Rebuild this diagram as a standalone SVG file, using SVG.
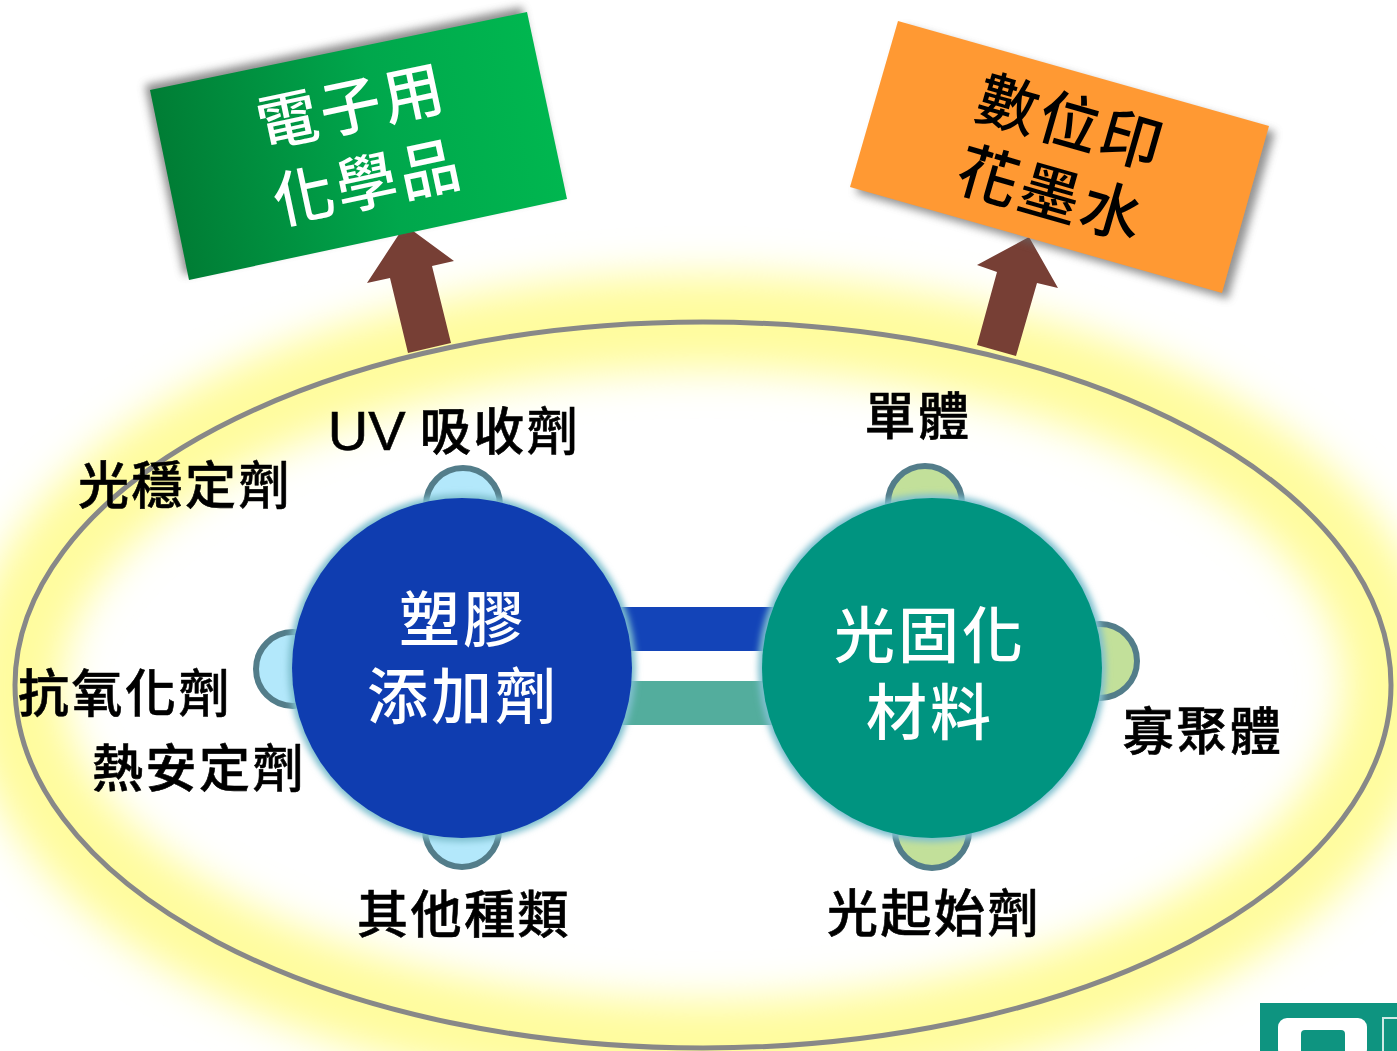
<svg xmlns="http://www.w3.org/2000/svg" width="1397" height="1051" viewBox="0 0 1397 1051">
<style>
text{font-family:"Noto Sans CJK TC","Noto Sans CJK SC",sans-serif;font-weight:500;text-anchor:middle}
.l{font-size:51px;letter-spacing:2.5px;fill:#000;stroke:#000;stroke-width:.6px}
.w{font-size:61px;letter-spacing:3px;fill:#fff}
.k{font-size:61px;letter-spacing:3px;fill:#000}
.sat{stroke:#537d8a;stroke-width:6}
.arrow{fill:#773f35}
</style>
<defs>
<filter id="glow" filterUnits="userSpaceOnUse" x="-200" y="100" width="1800" height="1100"><feGaussianBlur stdDeviation="20"/></filter>
<filter id="halo" x="-10%" y="-10%" width="120%" height="120%"><feGaussianBlur stdDeviation="3"/></filter>
<filter id="sh" x="-10%" y="-10%" width="120%" height="120%"><feGaussianBlur stdDeviation="4"/></filter>
<linearGradient id="gr" gradientUnits="userSpaceOnUse" x1="150" y1="170" x2="567" y2="85"><stop offset="0" stop-color="#007a33"/><stop offset=".55" stop-color="#00a74c"/><stop offset="1" stop-color="#00b950"/></linearGradient>
</defs>
<rect width="1397" height="1051" fill="#fff"/>
<g id="orbit">
<ellipse cx="703" cy="685" rx="688" ry="363" fill="none" stroke="#fffc9e" stroke-width="95" filter="url(#glow)"/>
<ellipse cx="703" cy="685" rx="688" ry="363" fill="none" stroke="#888" stroke-width="5"/>
</g>
<g id="connectors">
<polygon class="arrow" points="405,225 454,261 432,266 451,343 408,353 390,278 367,283"/>
<polygon class="arrow" points="1029,237 1058,288 1037,283 1016,356 977,345 997,272 977,265"/>
<rect x="620" y="607" width="155" height="44" fill="#1344b8"/>
<rect x="620" y="681" width="155" height="44" fill="#53ad9d"/>
</g>
<g id="box-green">
<polygon points="145,85 522,7 562,194 184,275" fill="#666" opacity=".75" filter="url(#sh)"/>
<polygon points="150,90 527,12 567,199 189,280" fill="url(#gr)"/>
<g transform="rotate(-12 358 146)"><text class="w" x="360" y="128">電子用</text><text class="w" x="360" y="206">化學品</text></g>
</g>
<g id="box-orange">
<polygon points="904,27 1275,132 1228,299 856,193" fill="#666" opacity=".7" filter="url(#sh)"/>
<polygon points="898,21 1269,126 1222,293 850,187" fill="#f93"/>
<g transform="rotate(16 1060 157)"><text class="k" x="1061" y="143">數位印</text><text class="k" x="1062" y="217">花墨水</text></g>
</g>
<g id="sat-uv"><circle class="sat" cx="463" cy="505" r="37" fill="#b3e8fb"/></g>
<g id="sat-anti"><circle class="sat" cx="293" cy="669" r="37" fill="#b3e8fb"/></g>
<g id="sat-other"><circle class="sat" cx="462" cy="830" r="37" fill="#b3e8fb"/></g>
<g id="sat-mono"><circle class="sat" cx="925" cy="503" r="37" fill="#c2e09a"/></g>
<g id="sat-oligo"><circle class="sat" cx="1100" cy="661" r="37" fill="#c2e09a"/></g>
<g id="sat-photo"><circle class="sat" cx="932" cy="831" r="37" fill="#c2e09a"/></g>
<g id="hub-plastic">
<circle cx="462" cy="668" r="174" fill="#7fc0cf" filter="url(#halo)"/>
<circle cx="462" cy="668" r="170" fill="#0f3db0"/>
<text class="w" x="463" y="642">塑膠</text><text class="w" x="463" y="719">添加劑</text>
</g>
<g id="hub-uv">
<circle cx="932" cy="668" r="174" fill="#7fc0cf" filter="url(#halo)"/>
<circle cx="932" cy="668" r="170" fill="#009480"/>
<text class="w" x="930" y="658">光固化</text><text class="w" x="930" y="735">材料</text>
</g>
<g id="labels">
<text class="l" x="454" y="450"><tspan font-family="Liberation Sans" font-size="56" letter-spacing="0">UV</tspan> 吸收劑</text>
<text class="l" x="185" y="504">光穩定劑</text>
<text class="l" x="125" y="712">抗氧化劑</text>
<text class="l" x="199" y="787">熱安定劑</text>
<text class="l" x="464" y="933">其他種類</text>
<text class="l" x="918" y="435">單體</text>
<text class="l" x="1203" y="750">寡聚體</text>
<text class="l" x="934" y="932">光起始劑</text>
</g>
<g id="logo">
<rect x="1260" y="1003" width="137" height="48" fill="#0e9480"/>
<rect x="1278" y="1018" width="89" height="40" rx="9" fill="#fff"/>
<rect x="1301" y="1030" width="44" height="30" rx="4" fill="#0e9480"/>
<rect x="1383" y="1018" width="16" height="40" fill="none" stroke="#cfeae5" stroke-width="2"/>
</g>
</svg>
